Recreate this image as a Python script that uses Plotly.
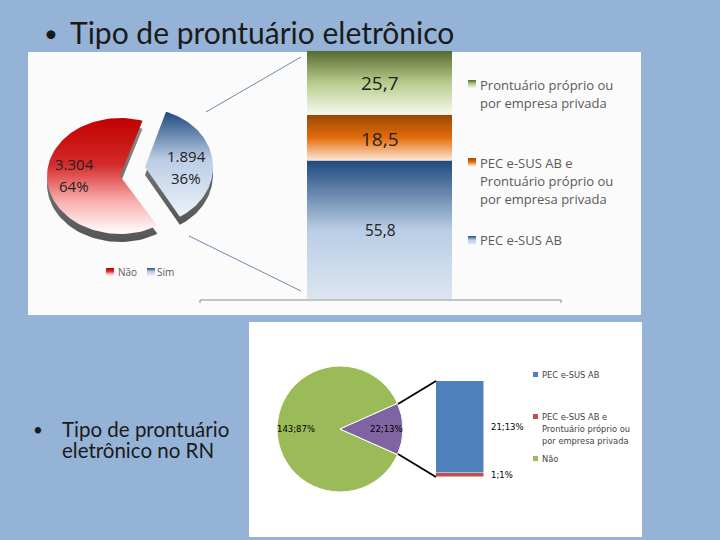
# Tipo de prontuário eletrônico: painel com pizzas e barras empilhadas
import numpy as np
import plotly.graph_objects as go

# Dados - painel de cima (Brasil)
pizza_nomes = ['Não', 'Sim']
pizza_valores = [3304, 1894]
pizza_rotulos = ['3.304', '1.894']
pizza_pct = ['64%', '36%']

pilha_nomes = ['PEC e-SUS AB', 'PEC e-SUS AB e Prontuário próprio ou por empresa privada',
               'Prontuário próprio ou por empresa privada']
pilha_valores = [55.8, 18.5, 25.7]
pilha_rotulos = ['55,8', '18,5', '25,7']

# Dados - painel de baixo (RN)
rn_nomes = ['Não', 'Sim']
rn_valores = [143, 22]
rn_pct = ['87%', '13%']
rn_barra_nomes = ['PEC e-SUS AB e Prontuário próprio ou por empresa privada', 'PEC e-SUS AB']
rn_barra_valores = [1, 21]
rn_barra_pct = ['1%', '13%']

# Cores
FUNDO = '#95b3d7'
PAINEL = '#fbfbfb'
TEXTO_LEG = '#5a5a5a'
grad_vermelho = [[0, '#ffffff'], [0.3, '#f7a8a8'], [0.6, '#d42a2a'], [1, '#c00000']]
grad_azul = [[0, '#eef2fa'], [0.55, '#b9cde5'], [1, '#1f497d']]
grad_sombra = [[0, '#555555'], [1, '#8a8a8a']]
grad_pilha = [
    [[0, '#dce6f2'], [0.5, '#b9cde5'], [1, '#1f497d']],
    [[0, '#fde9d9'], [0.5, '#e46c0a'], [1, '#984807']],
    [[0, '#f7f9ef'], [0.5, '#b9cc8c'], [1, '#566b30']],
]

FONTE = 'Open Sans'


def fatia(ini, fim, cx, cy, rx=73, ry=58):
    # fatia elíptica, ângulos em graus no sentido horário a partir do topo
    t = np.radians(np.linspace(ini, fim, 90))
    xs = [cx] + list(cx + rx * np.sin(t)) + [cx]
    ys = [cy] + list(cy - ry * np.cos(t)) + [cy]
    return xs, ys


def preenche(xs, ys, escala, eixos=('x', 'y')):
    return go.Scatter(x=xs, y=ys, xaxis=eixos[0], yaxis=eixos[1], mode='lines', line=dict(width=0),
                      fill='toself', fillgradient=dict(type='vertical', colorscale=escala),
                      hoverinfo='skip', showlegend=False)


def quadrado(x, y, escala, lado=8):
    return preenche([x, x + lado, x + lado, x, x], [y - lado / 2, y - lado / 2, y + lado / 2, y + lado / 2, y - lado / 2], escala)


fig = go.Figure()

# Pizza 3D do painel de cima (ângulos vindos dos valores)
ang_sim = 360 * pizza_valores[1] / sum(pizza_valores)
ini_sim = 18
fim_sim = ini_sim + ang_sim
fig.add_trace(preenche(*fatia(fim_sim, ini_sim + 360, 120, 184), grad_sombra))
fig.add_trace(preenche(*fatia(ini_sim, fim_sim, 145, 175, rx=68), grad_sombra))
fig.add_trace(preenche(*fatia(fim_sim, ini_sim + 360, 120, 176), grad_vermelho))
fig.add_trace(preenche(*fatia(ini_sim, fim_sim, 145, 167, rx=68), grad_azul))

# Barra empilhada com gradiente
base = 0
for valor, escala in zip(pilha_valores, grad_pilha):
    fig.add_trace(preenche([0, 1, 1, 0, 0], [base, base, base + valor, base + valor, base], escala, ('x3', 'y3')))
    base += valor

# Legendas com gradiente
fig.add_trace(quadrado(106, 272, grad_vermelho))
fig.add_trace(quadrado(147, 272, grad_azul))
fig.add_trace(quadrado(468, 84, grad_pilha[2]))
fig.add_trace(quadrado(468, 162, grad_pilha[1]))
fig.add_trace(quadrado(468, 240, grad_pilha[0]))

# Pizza do RN (fatia Sim centrada à direita)
fig.add_trace(go.Pie(values=rn_valores, labels=rn_nomes, sort=False, direction='clockwise',
                     rotation=90 + 180 * rn_valores[1] / sum(rn_valores),
                     marker=dict(colors=['#9bbb59', '#8064a2'], line=dict(color='white', width=1)),
                     textinfo='none', hoverinfo='skip', showlegend=False,
                     domain=dict(x=[277 / 720, 403 / 720], y=[(540 - 492) / 540, (540 - 366) / 540])))

# Barra empilhada do RN
for nome, valor, cor in zip(rn_barra_nomes, rn_barra_valores, ['#c0504d', '#4f81bd']):
    fig.add_trace(go.Bar(x=['RN'], y=[valor], name=nome, marker=dict(color=cor, line=dict(color='white', width=0.5)),
                         xaxis='x2', yaxis='y2', showlegend=False, hoverinfo='skip'))

textos = []


def texto(x, y, s, tam, cor='black', anchor='left', fonte=FONTE):
    textos.append(dict(x=x, y=y, xref='x', yref='y', text=s, showarrow=False, xanchor=anchor, yanchor='middle',
                       font=dict(family=fonte, size=tam, color=cor)))


texto(42, 32, '•', 24, '#1a1a1a', fonte='Lato')
texto(68, 32, 'Tipo de prontuário eletrônico', 30, '#1a1a1a', fonte='Lato')
texto(31, 429, '•', 17, '#1a1a1a', fonte='Lato')
texto(60, 429, 'Tipo de prontuário', 20.5, '#1a1a1a', fonte='Lato')
texto(60, 450, 'eletrônico no RN', 20.5, '#1a1a1a', fonte='Lato')

texto(74, 164, pizza_rotulos[0], 15, '#222222', 'center')
texto(74, 186, pizza_pct[0], 15, '#222222', 'center')
texto(186, 156, pizza_rotulos[1], 15, '#222222', 'center')
texto(186, 178, pizza_pct[1], 15, '#222222', 'center')
texto(116, 272, pizza_nomes[0], 10, TEXTO_LEG)
texto(155, 272, pizza_nomes[1], 10, TEXTO_LEG)

texto(380, 83, pilha_rotulos[2], 19, '#222222', 'center')
texto(380, 139, pilha_rotulos[1], 19, '#222222', 'center')
texto(380, 230, pilha_rotulos[0], 15.5, '#222222', 'center')

texto(478, 85, 'Prontuário próprio ou', 13, TEXTO_LEG)
texto(478, 103, 'por empresa privada', 13, TEXTO_LEG)
texto(478, 163, 'PEC e-SUS AB e', 13, TEXTO_LEG)
texto(478, 181, 'Prontuário próprio ou', 13, TEXTO_LEG)
texto(478, 199, 'por empresa privada', 13, TEXTO_LEG)
texto(478, 240, pilha_nomes[0], 13, TEXTO_LEG)

texto(296, 429, f'{rn_valores[0]};{rn_pct[0]}', 8.5, 'black', 'center', 'DejaVu Sans')
texto(386, 429, f'{rn_valores[1]};{rn_pct[1]}', 8.5, 'black', 'center', 'DejaVu Sans')
texto(507, 427, f'{rn_barra_valores[1]};{rn_barra_pct[1]}', 8.5, 'black', 'center', 'DejaVu Sans')
texto(502, 475, f'{rn_barra_valores[0]};{rn_barra_pct[0]}', 8.5, 'black', 'center', 'DejaVu Sans')

texto(540, 375, 'PEC e-SUS AB', 8.3, '#444444', fonte='DejaVu Sans')
texto(540, 417, 'PEC e-SUS AB e', 8.3, '#444444', fonte='DejaVu Sans')
texto(540, 429, 'Prontuário próprio ou', 8.3, '#444444', fonte='DejaVu Sans')
texto(540, 441, 'por empresa privada', 8.3, '#444444', fonte='DejaVu Sans')
texto(540, 459, 'Não', 8.3, '#444444', fonte='DejaVu Sans')


def retangulo(x0, y0, x1, y1, cor):
    return dict(type='rect', xref='x', yref='y', x0=x0, y0=y0, x1=x1, y1=y1, fillcolor=cor, line_width=0, layer='below')


def linha(x0, y0, x1, y1, cor, larg):
    return dict(type='line', xref='x', yref='y', x0=x0, y0=y0, x1=x1, y1=y1, line=dict(color=cor, width=larg))


formas = [
    retangulo(28, 52, 641, 315, PAINEL),
    retangulo(249, 322, 642, 537, 'white'),
    # ligações da pizza para a barra
    linha(206, 112, 301, 57, '#6f8aa8', 1),
    linha(189, 236, 301, 291, '#6f8aa8', 1),
    # eixo cinza por baixo da barra
    linha(200, 300, 561, 300, '#8c8c8c', 1),
    linha(200, 300, 200, 303, '#8c8c8c', 1),
    linha(561, 300, 561, 303, '#8c8c8c', 1),
    # ligações do RN
    linha(398, 404, 436, 381, 'black', 1.8),
    linha(398, 454, 436, 477, 'black', 1.8),
    # quadrados da legenda do RN
    retangulo(533, 372, 538, 377, '#4f81bd'),
    retangulo(533, 414, 538, 419, '#c0504d'),
    retangulo(533, 456, 538, 461, '#9bbb59'),
]
for forma in formas[-3:]:
    forma['layer'] = 'above'

eixo_oculto = dict(visible=False, fixedrange=True)
fig.update_layout(
    width=720,
    height=540,
    margin=dict(l=0, r=0, t=0, b=0),
    paper_bgcolor=FUNDO,
    plot_bgcolor='rgba(0,0,0,0)',
    barmode='stack',
    bargap=0,
    showlegend=False,
    xaxis=dict(eixo_oculto, range=[0, 720], domain=[0, 1]),
    yaxis=dict(eixo_oculto, range=[540, 0], domain=[0, 1]),
    xaxis2=dict(eixo_oculto, domain=[436 / 720, 484 / 720], anchor='y2'),
    yaxis2=dict(eixo_oculto, range=[0, sum(rn_barra_valores)], domain=[(540 - 477) / 540, (540 - 381) / 540], anchor='x2'),
    xaxis3=dict(eixo_oculto, range=[0, 1], domain=[307 / 720, 452 / 720], anchor='y3'),
    yaxis3=dict(eixo_oculto, range=[0, 100], domain=[(540 - 299) / 540, (540 - 51) / 540], anchor='x3'),
    annotations=textos,
    shapes=formas,
)

fig.write_html('out.html', config=dict(displayModeBar=False), post_script="document.body.style.margin='0';")
